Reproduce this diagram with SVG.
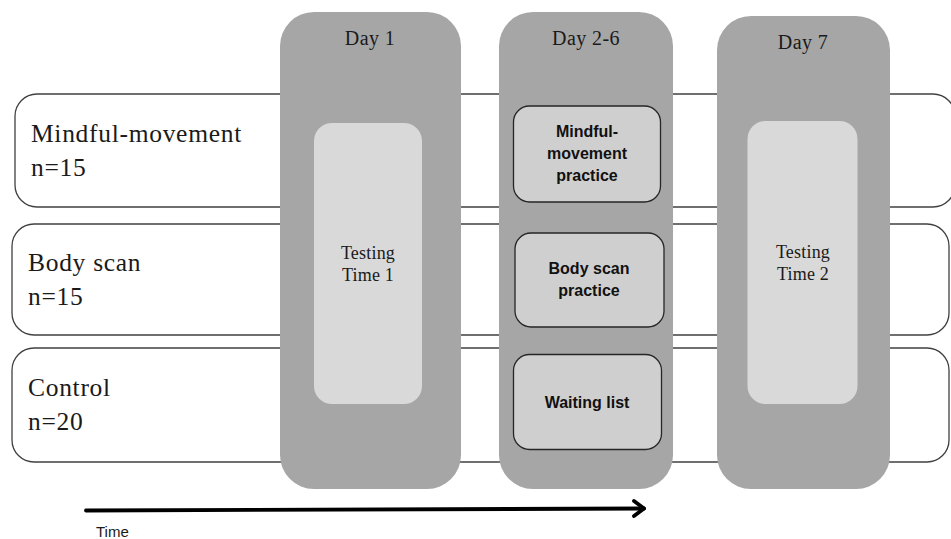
<svg xmlns="http://www.w3.org/2000/svg" width="951" height="539" viewBox="0 0 951 539">
  <style>
    .row { fill: #ffffff; stroke: #404040; stroke-width: 1.3; }
    .col { fill: #a6a6a6; }
    .test { fill: #d9d9d9; }
    .prac { fill: #d0cfcf; stroke: #262626; stroke-width: 1.3; }
    .rowlbl { font-family: "Liberation Serif", "DejaVu Serif", serif; font-size: 25.5px; letter-spacing: 0.7px; fill: #1a1a1a; }
    .daylbl { font-family: "Liberation Serif", "DejaVu Serif", serif; font-size: 20px; letter-spacing: 0.4px; fill: #1a1a1a; text-anchor: middle; }
    .testlbl { font-family: "Liberation Serif", "DejaVu Serif", serif; font-size: 18px; letter-spacing: 0.2px; fill: #1a1a1a; text-anchor: middle; }
    .praclbl { font-family: "Liberation Sans", Arial, sans-serif; font-size: 16px; font-weight: bold; fill: #111111; text-anchor: middle; }
    .timelbl { font-family: "Liberation Sans", Arial, sans-serif; font-size: 15px; fill: #1a1a1a; }
    .arrow { fill: none; stroke: #000000; stroke-width: 3.8; stroke-linecap: round; stroke-linejoin: round; }
  </style>

  <!-- group rows -->
  <g id="row-mindful">
    <rect class="row" x="15" y="94" width="940" height="113" rx="22"/>
    <text class="rowlbl" x="31" y="142">Mindful-movement</text>
    <text class="rowlbl" x="31" y="176">n=15</text>
  </g>
  <g id="row-bodyscan">
    <rect class="row" x="12" y="224" width="937" height="111" rx="22"/>
    <text class="rowlbl" x="28" y="271">Body scan</text>
    <text class="rowlbl" x="28" y="305">n=15</text>
  </g>
  <g id="row-control">
    <rect class="row" x="12" y="348" width="937" height="114" rx="22"/>
    <text class="rowlbl" x="28" y="396">Control</text>
    <text class="rowlbl" x="28" y="430">n=20</text>
  </g>

  <!-- day columns -->
  <g id="day1">
    <rect class="col" x="280" y="12" width="181" height="477" rx="34"/>
    <text class="daylbl" x="370" y="45">Day 1</text>
  </g>
  <g id="testing1">
    <rect class="test" x="314" y="123" width="108" height="281" rx="18"/>
    <text class="testlbl" x="368" y="259">Testing</text>
    <text class="testlbl" x="368" y="281">Time 1</text>
  </g>

  <g id="day2-6">
    <rect class="col" x="499" y="12" width="174" height="477" rx="34"/>
    <text class="daylbl" x="586" y="45">Day 2-6</text>
  </g>
  <g id="practice-mindful">
    <rect class="prac" x="513.5" y="106" width="147" height="96" rx="16"/>
    <text class="praclbl" x="587" y="137">Mindful-</text>
    <text class="praclbl" x="587" y="159">movement</text>
    <text class="praclbl" x="587" y="181">practice</text>
  </g>
  <g id="practice-bodyscan">
    <rect class="prac" x="515" y="233" width="149" height="94" rx="16"/>
    <text class="praclbl" x="589" y="274">Body scan</text>
    <text class="praclbl" x="589" y="296">practice</text>
  </g>
  <g id="waiting-list">
    <rect class="prac" x="513.5" y="354.5" width="148" height="95" rx="16"/>
    <text class="praclbl" x="587" y="408">Waiting list</text>
  </g>

  <g id="day7">
    <rect class="col" x="717" y="16" width="173" height="473" rx="34"/>
    <text class="daylbl" x="803" y="49">Day 7</text>
  </g>
  <g id="testing2">
    <rect class="test" x="747.5" y="121" width="110" height="283" rx="18"/>
    <text class="testlbl" x="803" y="258">Testing</text>
    <text class="testlbl" x="803" y="280">Time 2</text>
  </g>

  <!-- time axis -->
  <g id="connectors">
    <path class="arrow" d="M86 510.5 L644 508.5"/>
    <path class="arrow" d="M634 501 L644 508.5 L634 516"/>
  </g>
  <g id="time-label">
    <text class="timelbl" x="96" y="537">Time</text>
  </g>
</svg>
